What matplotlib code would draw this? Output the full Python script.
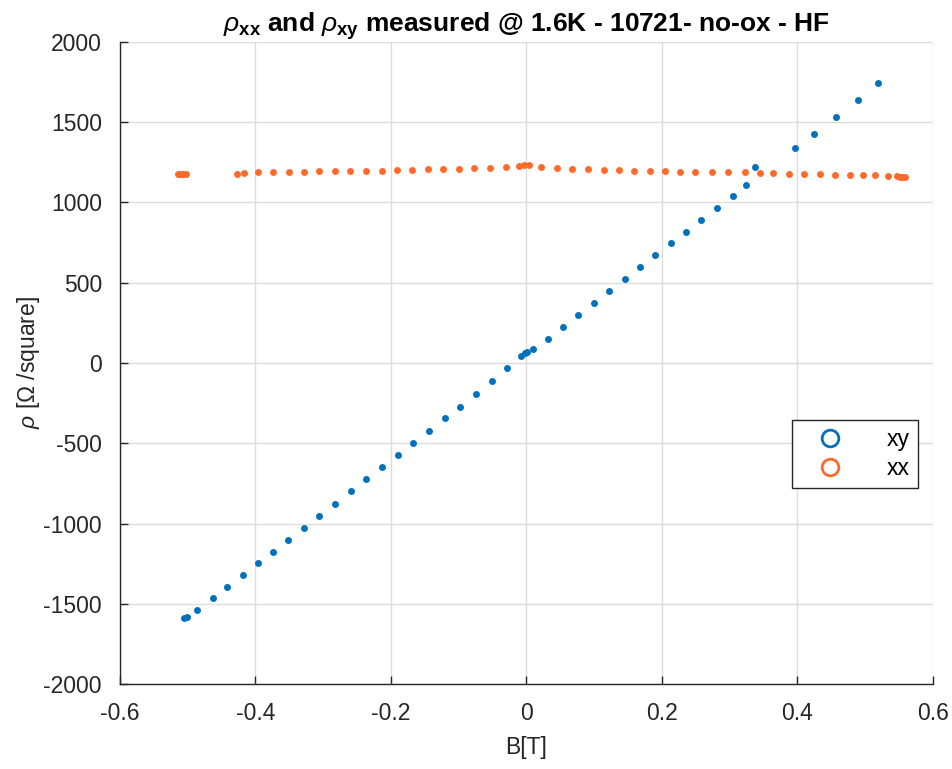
import numpy as np
import matplotlib
matplotlib.use("Agg")
import matplotlib.pyplot as plt
from matplotlib.lines import Line2D

plt.rcParams['font.family'] = ['Liberation Sans', 'DejaVu Sans']
plt.rcParams['mathtext.fontset'] = 'custom'
plt.rcParams['mathtext.rm'] = 'Liberation Sans'
plt.rcParams['mathtext.it'] = 'Liberation Sans:italic'
plt.rcParams['mathtext.bf'] = 'Liberation Sans:bold'

# rho_xy data
B_xy = [-0.5055, -0.5015, -0.4859, -0.4627, -0.4416, -0.4185, -0.3959, -0.3737,
        -0.3516, -0.3284, -0.3058, -0.2822, -0.2586, -0.2365, -0.2128, -0.1897,
        -0.1671, -0.1439, -0.1207, -0.0977, -0.0745, -0.0514, -0.0283, -0.0086,
        -0.0022, 0.0003, 0.0100, 0.0313, 0.0534, 0.0760, 0.1001, 0.1222, 0.1454,
        0.1675, 0.1901, 0.2128, 0.2359, 0.2580, 0.2807, 0.3043, 0.3244, 0.3368,
        0.3963, 0.4248, 0.4573, 0.4888, 0.5193]
rho_xy = [-1587, -1580, -1541, -1466, -1394, -1323, -1246, -1178,
          -1105, -1028, -951, -877, -799, -725, -648, -573,
          -500, -422, -345, -272, -193, -114, -33, 42,
          64, 70, 87, 151, 226, 299, 376, 451, 523,
          598, 671, 746, 818, 893, 966, 1038, 1109, 1219,
          1338, 1427, 1531, 1639, 1746]

# rho_xx data
B_xx = [-0.515, -0.511, -0.507, -0.503, -0.4278, -0.4165, -0.3959, -0.3742,
        -0.3510, -0.3280, -0.3058, -0.2827, -0.2605, -0.2369, -0.2138, -0.1911,
        -0.1686, -0.1458, -0.1228, -0.1001, -0.0770, -0.0543, -0.0307, -0.0106,
        -0.0032, 0.0041, 0.0218, 0.0450, 0.0672, 0.0913, 0.1139, 0.1365, 0.1587,
        0.1823, 0.2039, 0.2270, 0.2491, 0.2734, 0.2979, 0.3220, 0.3451, 0.3643,
        0.3870, 0.4100, 0.4328, 0.4549, 0.4779, 0.4967, 0.5148, 0.5336, 0.5464,
        0.552, 0.555, 0.558]
rho_xx = [1178, 1177, 1177, 1176, 1179, 1186, 1188, 1190,
          1190, 1192, 1194, 1194, 1196, 1196, 1198, 1200,
          1202, 1206, 1209, 1209, 1213, 1217, 1221, 1229,
          1234, 1232, 1221, 1215, 1209, 1207, 1205, 1200, 1198,
          1198, 1194, 1192, 1190, 1188, 1188, 1188, 1184, 1182,
          1179, 1178, 1176, 1173, 1171, 1169, 1169, 1165, 1163,
          1160, 1160, 1159]

c_xy = '#0072BD'
c_xx = '#FF6A2B'
dark = '#262626'
fs = 16.5

fig = plt.figure(figsize=(9.53, 7.69), dpi=100)
ax = fig.add_axes([0.1259, 0.1105, 0.979 - 0.1259, 0.9454 - 0.1105])

ax.plot(B_xy, rho_xy, 'o', color=c_xy, ms=5, mew=0, label='xy')
ax.plot(B_xx, rho_xx, 'o', color=c_xx, ms=5, mew=0, label='xx')

ax.set_xlim(-0.6, 0.6)
ax.set_ylim(-2000, 2000)
ax.set_xticks(np.arange(-0.6, 0.61, 0.2))
ax.set_xticklabels(['-0.6', '-0.4', '-0.2', '0', '0.2', '0.4', '0.6'])
ax.set_yticks(np.arange(-2000, 2001, 500))
ax.set_yticklabels([str(v) for v in range(-2000, 2001, 500)])

ax.grid(True, color='#DCDCDC', lw=1)
ax.set_axisbelow(True)
for s in ['top', 'right']:
    ax.spines[s].set_visible(False)
for s in ['left', 'bottom']:
    ax.spines[s].set_color(dark)
    ax.spines[s].set_linewidth(1.0)
ax.tick_params(direction='in', length=6, width=1, color=dark, labelcolor=dark,
               labelsize=fs)
ax.tick_params(axis='x', pad=13)
ax.tick_params(axis='y', pad=13)

ax.set_xlabel('B[T]', fontsize=fs, color=dark, labelpad=8)
ax.set_ylabel(r'$\rho$ [$\Omega$ /square]', fontsize=fs, color=dark, labelpad=1)
ax.set_title(r'$\rho_{\mathbf{xx}}$ and $\rho_{\mathbf{xy}}$ measured @ 1.6K - 10721- no-ox - HF',
             fontsize=19, fontweight='bold', pad=3)

handles = [Line2D([], [], ls='none', marker='o', mfc='none', mec=c_xy, mew=2, ms=12),
           Line2D([], [], ls='none', marker='o', mfc='none', mec=c_xx, mew=2, ms=12)]
leg = ax.legend(handles, ['xy', 'xx'], loc='upper left',
                bbox_to_anchor=(792 / 953, 1 - 420 / 769), bbox_transform=fig.transFigure,
                borderaxespad=0, fontsize=fs, fancybox=False, framealpha=1, edgecolor=dark,
                handletextpad=1.2, borderpad=0.35, labelspacing=0.25, handlelength=2.6)
leg.get_frame().set_linewidth(1.0)

fig.savefig('out.png', dpi=100)
